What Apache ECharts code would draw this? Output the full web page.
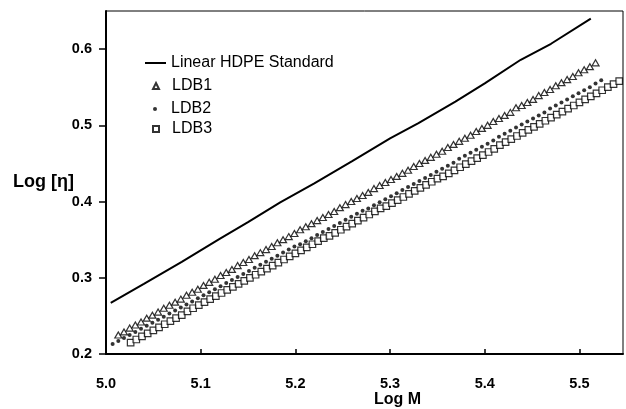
<!DOCTYPE html>
<html>
<head>
<meta charset="utf-8">
<script src="https://cdn.jsdelivr.net/npm/echarts@6/dist/echarts.min.js"></script>
<style>
html,body{margin:0;padding:0;background:#fff;}
#chart{width:626px;height:409px;}
</style>
</head>
<body>
<div id="chart"></div>
<script>
// ---- Data ----
const xTicks = [5.0, 5.1, 5.2, 5.3, 5.4, 5.5];
const yTicks = [0.2, 0.3, 0.4, 0.5, 0.6];

const hdpeLogM = [5.005, 5.04, 5.08, 5.12, 5.15, 5.184, 5.22, 5.26, 5.30, 5.33, 5.369, 5.40, 5.438, 5.47, 5.512];
const hdpeLogEta = [0.267, 0.292, 0.321, 0.351, 0.373, 0.399, 0.424, 0.453, 0.483, 0.503, 0.531, 0.555, 0.586, 0.607, 0.640];

const ldb1LogM = [5.013,5.019,5.025,5.031,5.037,5.043,5.049,5.055,5.061,5.067,5.073,5.079,5.085,5.091,5.097,5.103,5.109,5.115,5.121,5.127,5.133,5.139,5.145,5.151,5.157,5.163,5.169,5.175,5.181,5.187,5.193,5.199,5.205,5.211,5.217,5.223,5.229,5.235,5.241,5.247,5.253,5.259,5.265,5.271,5.277,5.283,5.289,5.295,5.301,5.307,5.313,5.319,5.325,5.331,5.337,5.343,5.349,5.355,5.361,5.367,5.373,5.379,5.385,5.391,5.397,5.403,5.409,5.415,5.421,5.427,5.433,5.439,5.445,5.451,5.457,5.463,5.469,5.475,5.481,5.487,5.493,5.499,5.505,5.511,5.517];
const ldb1LogEta = [0.225,0.229,0.234,0.238,0.242,0.247,0.251,0.255,0.260,0.264,0.268,0.272,0.277,0.281,0.285,0.290,0.294,0.298,0.303,0.307,0.311,0.316,0.320,0.324,0.329,0.333,0.337,0.341,0.346,0.350,0.354,0.358,0.363,0.367,0.371,0.375,0.379,0.383,0.387,0.392,0.396,0.400,0.404,0.408,0.412,0.417,0.421,0.425,0.429,0.433,0.437,0.441,0.446,0.450,0.454,0.458,0.462,0.466,0.471,0.475,0.479,0.483,0.487,0.492,0.496,0.500,0.505,0.509,0.513,0.517,0.523,0.526,0.530,0.534,0.539,0.543,0.547,0.552,0.556,0.560,0.564,0.569,0.573,0.577,0.582];

const ldb2LogM = [5.007,5.013,5.019,5.025,5.031,5.037,5.043,5.049,5.055,5.061,5.067,5.073,5.079,5.085,5.091,5.097,5.103,5.109,5.115,5.121,5.127,5.133,5.139,5.145,5.151,5.157,5.163,5.169,5.175,5.181,5.187,5.193,5.199,5.205,5.211,5.217,5.223,5.229,5.235,5.241,5.247,5.253,5.259,5.265,5.271,5.277,5.283,5.289,5.295,5.301,5.307,5.313,5.319,5.325,5.331,5.337,5.343,5.349,5.355,5.361,5.367,5.373,5.379,5.385,5.391,5.397,5.403,5.409,5.415,5.421,5.427,5.433,5.439,5.445,5.451,5.457,5.463,5.469,5.475,5.481,5.487,5.493,5.499,5.505,5.511,5.517,5.523];
const ldb2LogEta = [0.213,0.217,0.221,0.225,0.229,0.233,0.237,0.241,0.245,0.249,0.253,0.257,0.261,0.265,0.269,0.273,0.277,0.281,0.285,0.289,0.293,0.297,0.301,0.305,0.309,0.313,0.317,0.321,0.325,0.329,0.333,0.337,0.341,0.344,0.348,0.352,0.356,0.360,0.364,0.368,0.372,0.376,0.380,0.384,0.388,0.391,0.395,0.399,0.403,0.407,0.411,0.415,0.419,0.423,0.427,0.431,0.435,0.439,0.443,0.447,0.451,0.456,0.460,0.464,0.468,0.472,0.476,0.480,0.485,0.489,0.493,0.497,0.501,0.505,0.509,0.513,0.517,0.522,0.526,0.530,0.534,0.538,0.542,0.546,0.550,0.555,0.559];

const ldb3LogM = [5.026,5.032,5.038,5.044,5.050,5.056,5.062,5.068,5.074,5.080,5.086,5.092,5.098,5.104,5.110,5.116,5.122,5.128,5.134,5.140,5.146,5.152,5.158,5.164,5.170,5.176,5.182,5.188,5.194,5.200,5.206,5.212,5.218,5.224,5.230,5.236,5.242,5.248,5.254,5.260,5.266,5.272,5.278,5.284,5.290,5.296,5.302,5.308,5.314,5.320,5.326,5.332,5.338,5.344,5.350,5.356,5.362,5.368,5.374,5.380,5.386,5.392,5.398,5.404,5.410,5.416,5.422,5.428,5.434,5.440,5.446,5.452,5.458,5.464,5.470,5.476,5.482,5.488,5.494,5.500,5.506,5.512,5.518,5.524,5.530,5.536,5.542,5.548];
const ldb3LogEta = [0.215,0.219,0.223,0.227,0.231,0.235,0.239,0.243,0.247,0.251,0.256,0.260,0.264,0.268,0.272,0.276,0.280,0.284,0.288,0.292,0.296,0.300,0.304,0.308,0.312,0.316,0.320,0.324,0.328,0.332,0.336,0.340,0.344,0.348,0.352,0.355,0.359,0.363,0.367,0.371,0.375,0.379,0.383,0.387,0.391,0.394,0.398,0.402,0.406,0.410,0.414,0.418,0.422,0.426,0.430,0.433,0.437,0.441,0.445,0.449,0.453,0.457,0.461,0.465,0.469,0.474,0.478,0.482,0.486,0.490,0.494,0.498,0.502,0.506,0.510,0.514,0.518,0.522,0.526,0.530,0.534,0.538,0.542,0.546,0.550,0.554,0.558,0.562];

function pairs(xs, ys){ return xs.map((x,i)=>[x, ys[i]]); }

const FONT = '"Liberation Sans", Arial, sans-serif';
const chart = echarts.init(document.getElementById('chart'), null, {renderer:'canvas'});

function fmt1(v){ return Math.abs(v*10 - Math.round(v*10)) < 1e-6 ? v.toFixed(1) : ''; }

const legendText = {fontFamily:FONT, fontSize:16, color:'#000'};
const legendBase = {orient:'vertical', padding:0, itemGap:0};

chart.setOption({
  animation:false,
  backgroundColor:'#fff',
  grid:{left:106, right:3, top:11, bottom:55, show:true, borderColor:'#000', borderWidth:1,
        backgroundColor:'transparent', containLabel:false, outerBoundsMode:'none'},
  legend:[
    Object.assign({}, legendBase, {data:[{name:'Linear HDPE Standard', icon:'rect'}], left:145, top:55, itemWidth:21, itemHeight:2,
      textStyle:legendText}),
    Object.assign({}, legendBase, {data:['LDB1'], left:152, top:78, itemWidth:6, itemHeight:6,
      textStyle:Object.assign({}, legendText, {padding:[0,0,0,8]})}),
    Object.assign({}, legendBase, {data:['LDB2'], left:153, top:101, itemWidth:4, itemHeight:4,
      textStyle:Object.assign({}, legendText, {padding:[0,0,0,9]})}),
    Object.assign({}, legendBase, {data:['LDB3'], left:152, top:121, itemWidth:6, itemHeight:6,
      textStyle:Object.assign({}, legendText, {padding:[0,0,0,8]})})
  ],
  xAxis:{
    type:'value', min:5.0, max:5.546, interval:0.1,
    name:'Log M', nameLocation:'middle', nameGap:38, nameMoveOverlap:false,
    nameTextStyle:{fontFamily:FONT, fontSize:16, fontWeight:'bold', color:'#000', padding:[0,0,0,66]},
    axisLine:{show:true, onZero:false, lineStyle:{color:'#000', width:2}},
    axisTick:{show:true, inside:true, length:5, lineStyle:{color:'#000', width:1.5}, customValues:xTicks},
    axisLabel:{margin:22, fontFamily:FONT, fontSize:14.5, fontWeight:'bold', color:'#000', formatter:fmt1, customValues:xTicks},
    splitLine:{show:false}
  },
  yAxis:{
    type:'value', min:0.2, max:0.65, interval:0.1,
    name:'Log [η]', nameLocation:'middle', nameRotate:0, nameGap:32, nameMoveOverlap:false,
    nameTextStyle:{fontFamily:FONT, fontSize:18, fontWeight:'bold', color:'#000', align:'right'},
    axisLine:{show:true, onZero:false, lineStyle:{color:'#000', width:2}},
    axisTick:{show:true, inside:false, length:7, lineStyle:{color:'#000', width:1.5}, customValues:yTicks},
    axisLabel:{margin:14, fontFamily:FONT, fontSize:14.5, fontWeight:'bold', color:'#000', formatter:fmt1, customValues:yTicks},
    splitLine:{show:false}
  },
  series:[
    {name:'Linear HDPE Standard', type:'line', data:pairs(hdpeLogM, hdpeLogEta), symbol:'none', showSymbol:false,
     lineStyle:{color:'#000', width:2}, itemStyle:{color:'#000'}, smooth:false, z:3},
    {name:'LDB1', type:'scatter', data:pairs(ldb1LogM, ldb1LogEta), symbol:'triangle', symbolSize:[7,6],
     itemStyle:{color:'#fff', borderColor:'#000', borderWidth:1.2}, z:2},
    {name:'LDB2', type:'scatter', data:pairs(ldb2LogM, ldb2LogEta), symbol:'circle', symbolSize:4,
     itemStyle:{color:'#000', borderWidth:0}, z:4},
    {name:'LDB3', type:'scatter', data:pairs(ldb3LogM, ldb3LogEta), symbol:'rect', symbolSize:6.5,
     itemStyle:{color:'#fff', borderColor:'#000', borderWidth:1.2}, z:2}
  ]
});
</script>
</body>
</html>
